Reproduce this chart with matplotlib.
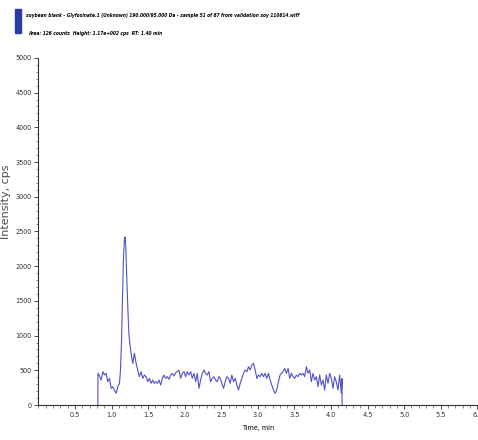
import matplotlib
matplotlib.use("Agg")
import matplotlib.pyplot as plt
from matplotlib.patches import Rectangle
from matplotlib.ticker import MultipleLocator

# 色谱数据
times = [
    0.812, 0.813, 0.834, 0.857, 0.880, 0.903, 0.925, 0.948, 0.971, 0.994,
    1.016, 1.039, 1.062, 1.085, 1.107, 1.120, 1.135, 1.150, 1.160, 1.175,
    1.185, 1.195, 1.205, 1.220, 1.235, 1.244, 1.266, 1.289, 1.312, 1.335,
    1.357, 1.380, 1.403, 1.426, 1.448, 1.471, 1.494, 1.517, 1.539, 1.562,
    1.585, 1.603, 1.626, 1.648, 1.671, 1.694, 1.717, 1.739, 1.762, 1.785,
    1.808, 1.830, 1.853, 1.876, 1.899, 1.921, 1.944, 1.967, 1.990, 2.012,
    2.035, 2.058, 2.081, 2.103, 2.126, 2.149, 2.172, 2.194, 2.217, 2.240,
    2.263, 2.285, 2.308, 2.331, 2.353, 2.376, 2.399, 2.422, 2.444, 2.467,
    2.485, 2.508, 2.531, 2.553, 2.576, 2.599, 2.622, 2.644, 2.667, 2.690,
    2.713, 2.735, 2.758, 2.781, 2.804, 2.826, 2.849, 2.872, 2.895, 2.917,
    2.940, 2.963, 2.986, 3.008, 3.031, 3.054, 3.076, 3.099, 3.122, 3.145,
    3.167, 3.190, 3.213, 3.236, 3.258, 3.281, 3.304, 3.322, 3.345, 3.367,
    3.390, 3.413, 3.436, 3.458, 3.481, 3.504, 3.527, 3.549, 3.572, 3.595,
    3.618, 3.640, 3.663, 3.686, 3.709, 3.731, 3.754, 3.777, 3.800, 3.822,
    3.845, 3.868, 3.891, 3.913, 3.936, 3.959, 3.982, 4.004, 4.027, 4.050,
    4.072, 4.095, 4.118, 4.141, 4.150, 4.152,
]
intensity = [
    0, 457, 418, 360, 480, 432, 457, 336, 384, 240,
    264, 216, 168, 264, 312, 480, 900, 1600, 2050, 2400,
    2420, 2250, 1900, 1450, 1050, 937, 745, 600, 745, 600,
    504, 408, 480, 384, 432, 408, 336, 384, 312, 360,
    312, 336, 312, 360, 288, 384, 432, 384, 408, 370,
    432, 456, 418, 466, 480, 504, 384, 456, 480, 408,
    480, 432, 480, 384, 456, 336, 456, 240, 360, 456,
    504, 456, 432, 480, 336, 384, 408, 360, 336, 408,
    384, 312, 240, 336, 408, 384, 312, 432, 336, 384,
    288, 216, 312, 384, 456, 504, 480, 552, 504, 576,
    600, 504, 384, 432, 408, 456, 408, 456, 384, 456,
    360, 288, 216, 168, 216, 336, 432, 456, 480, 528,
    456, 528, 384, 456, 408, 384, 432, 408, 456, 432,
    456, 408, 552, 456, 504, 336, 456, 360, 408, 264,
    432, 288, 360, 216, 432, 312, 456, 384, 240, 408,
    336, 216, 432, 168, 380, 0,
]

x_ticks = [0.5, 1.0, 1.5, 2.0, 2.5, 3.0, 3.5, 4.0, 4.5, 5.0, 5.5, 6.0]
y_ticks = [0, 500, 1000, 1500, 2000, 2500, 3000, 3500, 4000, 4500, 5000]

title1 = ("soybean blank - Glyfosinate.1 (Unknown) 190.000/95.000 Da - "
          "sample 51 of 67 from validation soy 110614.wiff")
title2 = "Area: 126 counts  Height: 1.17e+002 cps  RT: 1.40 min"

fig = plt.figure(figsize=(4.78, 4.40), dpi=100)
ax = fig.add_axes([0.0805, 0.0795, 0.918, 0.789])

ax.plot(times, intensity, color="#4f52c8", lw=0.8)

ax.set_xlim(0, 6.0)
ax.set_ylim(0, 5000)
ax.set_xticks(x_ticks)
ax.set_xticklabels([f"{v:.1f}" for v in x_ticks], fontsize=5.2, fontstretch="condensed")
ax.set_yticks(y_ticks)
ax.set_yticklabels([str(v) for v in y_ticks], fontsize=5.2, fontstretch="condensed")
ax.xaxis.set_minor_locator(MultipleLocator(0.1))
ax.yaxis.set_minor_locator(MultipleLocator(100))
ax.tick_params(which="major", length=3, width=0.6, pad=2, colors="#333333")
ax.tick_params(which="minor", length=1.8, width=0.5, colors="#555555")

for s in ["top", "right"]:
    ax.spines[s].set_visible(False)
for s in ["left", "bottom"]:
    ax.spines[s].set_linewidth(0.8)
    ax.spines[s].set_color("#333333")

ax.set_xlabel("Time, min", fontsize=5.2, fontstretch="condensed", labelpad=5)
ax.set_ylabel("Intensity, cps", fontsize=8, color="#4a4a4a")
ax.yaxis.set_label_coords(-0.062, 0.585)

# 标题区：左侧蓝色竖条 + 两行说明
fig.patches.append(Rectangle((15 / 478, 1 - 33 / 440), 6 / 478, 24 / 440,
                             transform=fig.transFigure, color="#2a3aa8"))
fig.text(26 / 478, 1 - 16 / 440, title1, fontsize=3.5, fontstretch="condensed",
         fontweight="bold", style="italic", va="center")
fig.text(28 / 478, 1 - 33 / 440, title2, fontsize=3.5, fontstretch="condensed",
         fontweight="bold", style="italic", va="center")

fig.savefig("out.png", dpi=100)
